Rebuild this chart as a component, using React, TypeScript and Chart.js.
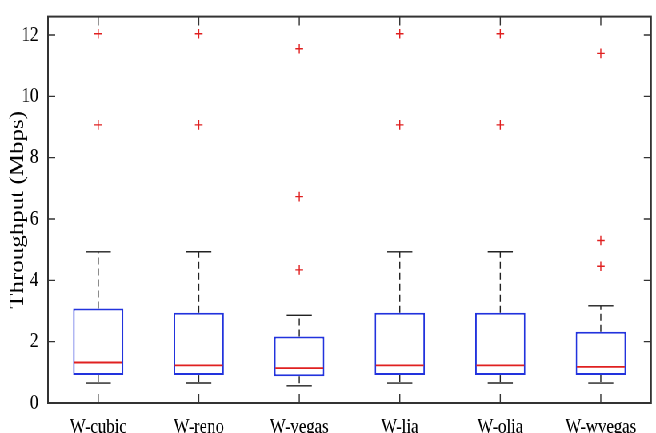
import React, { useEffect, useRef } from "react";
import { Chart, registerables } from "chart.js";

Chart.register(...registerables);

const categories = ["W-cubic", "W-reno", "W-vegas", "W-lia", "W-olia", "W-wvegas"];
const whiskerLow = [0.65, 0.65, 0.56, 0.65, 0.65, 0.65];
const q1 = [0.91, 0.91, 0.87, 0.91, 0.91, 0.91];
const median = [1.32, 1.23, 1.14, 1.23, 1.23, 1.18];
const q3 = [3.08, 2.94, 2.17, 2.94, 2.94, 2.32];
const whiskerHigh = [4.93, 4.93, 2.86, 4.93, 4.93, 3.17];
const outlierCategory = [
  "W-cubic", "W-cubic",
  "W-reno", "W-reno",
  "W-vegas", "W-vegas", "W-vegas",
  "W-lia", "W-lia",
  "W-olia", "W-olia",
  "W-wvegas", "W-wvegas", "W-wvegas",
];
const outlierValue = [
  9.07, 12.04,
  9.07, 12.04,
  4.34, 6.73, 11.55,
  9.07, 12.04,
  9.07, 12.04,
  4.46, 5.3, 11.4,
];
const yTicks = [0, 2, 4, 6, 8, 10, 12];

const FONT = "'Liberation Serif', 'Times New Roman', serif";

const boxPlugin = {
  id: "boxDecor",
  afterDatasetsDraw(chart: any) {
    const { ctx, scales } = chart;
    const x = scales.x;
    const y = scales.y;
    const meta = chart.getDatasetMeta(0);
    ctx.save();
    categories.forEach((_, i) => {
      const cx = x.getPixelForValue(i);
      const bw = meta.data[i].width;
      const cap = bw / 4;
      const line = (x1: number, y1: number, x2: number, y2: number) => {
        ctx.beginPath();
        ctx.moveTo(x1, y1);
        ctx.lineTo(x2, y2);
        ctx.stroke();
      };
      ctx.strokeStyle = "#222";
      ctx.lineWidth = 1.4;
      ctx.setLineDash([7, 4]);
      line(cx, y.getPixelForValue(q3[i]), cx, y.getPixelForValue(whiskerHigh[i]));
      line(cx, y.getPixelForValue(q1[i]), cx, y.getPixelForValue(whiskerLow[i]));
      ctx.setLineDash([]);
      line(cx - cap, y.getPixelForValue(whiskerHigh[i]), cx + cap, y.getPixelForValue(whiskerHigh[i]));
      line(cx - cap, y.getPixelForValue(whiskerLow[i]), cx + cap, y.getPixelForValue(whiskerLow[i]));
      ctx.strokeStyle = "#e02020";
      ctx.lineWidth = 1.8;
      const my = y.getPixelForValue(median[i]);
      line(cx - bw / 2 + 1.5, my, cx + bw / 2 - 1.5, my);
    });
    ctx.restore();
  },
  afterDraw(chart: any) {
    const { ctx, chartArea, scales } = chart;
    const { left, right, top, bottom } = chartArea;
    const x = scales.x;
    const y = scales.y;
    ctx.save();
    ctx.strokeStyle = "#333";
    ctx.lineWidth = 2;
    ctx.strokeRect(left, top, right - left, bottom - top);
    ctx.lineWidth = 1.4;
    const tl = 9;
    yTicks.forEach((v) => {
      const py = y.getPixelForValue(v);
      ctx.beginPath();
      ctx.moveTo(left, py);
      ctx.lineTo(left + tl, py);
      ctx.moveTo(right, py);
      ctx.lineTo(right - tl, py);
      ctx.stroke();
    });
    categories.forEach((_, i) => {
      const px = x.getPixelForValue(i);
      ctx.beginPath();
      ctx.moveTo(px, bottom);
      ctx.lineTo(px, bottom - tl);
      ctx.moveTo(px, top);
      ctx.lineTo(px, top + tl);
      ctx.stroke();
    });
    ctx.restore();
  },
};

export default function App() {
  const canvasRef = useRef<HTMLCanvasElement | null>(null);

  useEffect(() => {
    const canvas = canvasRef.current;
    if (!canvas) return;
    const chart = new Chart(canvas, {
      type: "bar",
      data: {
        labels: categories,
        datasets: [
          {
            type: "bar",
            label: "IQR",
            data: categories.map((_, i) => [q1[i], q3[i]]) as any,
            backgroundColor: "#ffffff",
            borderColor: "#2233dd",
            borderWidth: 2,
            borderSkipped: false,
            barPercentage: 0.5,
            categoryPercentage: 1,
          } as any,
          {
            type: "line",
            label: "Outliers",
            data: outlierCategory.map((c, i) => ({ x: c, y: outlierValue[i] })) as any,
            showLine: false,
            pointStyle: "cross",
            pointRadius: 4.8,
            pointBorderWidth: 1.4,
            borderColor: "#e02020",
            pointBorderColor: "#e02020",
            backgroundColor: "#e02020",
          } as any,
        ],
      },
      options: {
        responsive: false,
        animation: false,
        devicePixelRatio: 1,
        layout: { padding: { top: 7, right: 1, bottom: 0, left: 0 } },
        plugins: {
          legend: { display: false },
          tooltip: { enabled: false },
        },
        scales: {
          x: {
            type: "category",
            offset: true,
            grid: { display: false },
            border: { display: false },
            ticks: {
              color: "#000",
              padding: 4,
              maxRotation: 0,
              font: { family: FONT, size: 21 },
            },
            afterFit: (s: any) => {
              s.height = 30;
            },
          },
          y: {
            type: "linear",
            min: 0,
            max: 12.6,
            grid: { display: false },
            border: { display: false },
            ticks: {
              stepSize: 2,
              includeBounds: false,
              color: "#000",
              padding: 4,
              font: { family: FONT, size: 21 },
            },
            title: {
              display: true,
              text: "Throughput (Mbps)",
              color: "#000",
              padding: { top: 7, bottom: 0 },
              font: { family: FONT, size: 25, weight: "normal" },
            },
            afterFit: (s: any) => {
              s.width = 60;
            },
          },
        },
      } as any,
      plugins: [boxPlugin],
    });
    return () => chart.destroy();
  }, []);

  return (
    <div
      style={{
        position: "fixed",
        left: 0,
        top: 0,
        width: 820,
        height: 433,
        transform: "scaleX(0.8)",
        transformOrigin: "0 0",
        background: "#fff",
      }}
    >
      <canvas ref={canvasRef} width={820} height={433} />
    </div>
  );
}
